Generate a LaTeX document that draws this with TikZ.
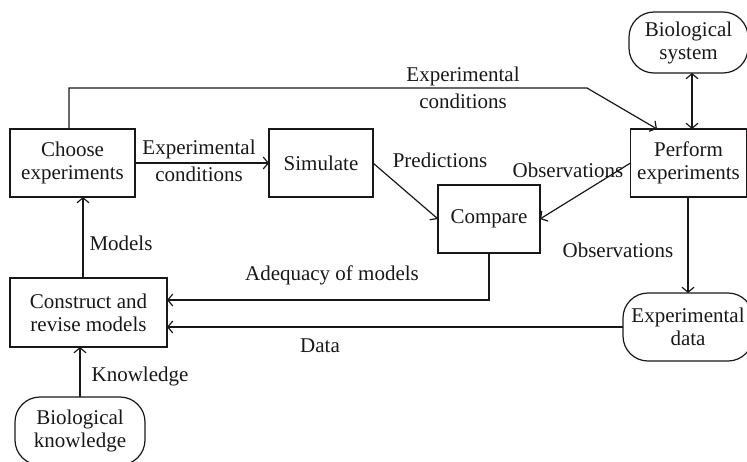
\documentclass[tikz,border=0pt]{standalone}
\usepackage{fontspec}
\setmainfont{Liberation Serif}
\usetikzlibrary{arrows.meta,calc}
\definecolor{ink}{HTML}{1A1718}

\begin{document}
\begin{tikzpicture}[x=1pt,y=-1pt,
  every node/.style={text=ink},
  boxtext/.style={font=\fontsize{21}{23}\selectfont},
  labeltext/.style={font=\fontsize{21}{27.5}\selectfont, align=center, inner sep=0pt},
  stagebox/.style={draw=ink, line width=1.2pt, rectangle, align=center, inner sep=0pt, outer sep=0pt, boxtext},
  sourcebox/.style={stagebox, rounded corners=25pt},
  arr/.style={draw=ink, line width=1.2pt, -{Straight Barb[length=5pt,width=12pt,line width=1.2pt]}},
  darr/.style={draw=ink, line width=1.2pt, {Straight Barb[length=5pt,width=12pt,line width=1.2pt]}-{Straight Barb[length=5pt,width=12pt,line width=1.2pt]}}]

\useasboundingbox (0,0) rectangle (747,461);
\clip (0,0) rectangle (747,461);

% process stages
\node[stagebox, minimum width=125pt, minimum height=68pt] (choose)    at (72.5,163) {Choose\\experiments};
\node[stagebox, minimum width=104pt, minimum height=68pt] (simulate)  at (321,163)  {Simulate};
\node[stagebox, minimum width=102pt, minimum height=68pt] (compare)   at (489,219)  {Compare};
\node[stagebox, minimum width=116pt, minimum height=68pt] (perform)   at (688.5,163) {Perform\\experiments};
\node[stagebox, minimum width=157pt, minimum height=69pt] (construct) at (88.5,312.5) {Construct and\\revise models};

% sources of information
\node[sourcebox, minimum width=119pt, minimum height=61pt] (biosys)  at (688.5,42.5) {Biological\\system};
\node[sourcebox, minimum width=130pt, minimum height=68pt] (expdata) at (688,327)   {Experimental\\data};
\node[sourcebox, minimum width=130pt, minimum height=68pt] (bioknow) at (80,431)    {Biological\\knowledge};

% route of the upper "experimental conditions" line
\coordinate (ecCol)  at (69,88);
\coordinate (ecTurn) at (587,88);
\coordinate (ecEnd)  at (657,129);
\coordinate (bsCol)  at (692,0);
\coordinate (mCol)   at (83,0);
\coordinate (aqRow)  at (0,300);

% connectors
\draw[arr] (choose.north -| ecCol) -- (ecCol) -- (ecTurn) -- (perform.north -| ecEnd);
\draw[arr] (choose.east) -- (simulate.west);
\draw[arr] (simulate.east) -- (compare.west);
\draw[arr] (perform.west) -- (compare.east);
\draw[darr] (biosys.south -| bsCol) -- (perform.north -| bsCol);
\draw[arr] (perform.south -| expdata.north) -- (expdata.north);
\draw[arr] (compare.south) |- (construct.east |- aqRow);
\draw[arr] (expdata.west) -- (construct.east |- expdata.west);
\draw[arr] (construct.north -| mCol) -- (choose.south -| mCol);
\draw[arr] (bioknow.north) -- (construct.south -| bioknow.north);

% connector labels
\node[labeltext] (lEcTop)  at (463,88)  {Experimental\\conditions};
\node[labeltext] (lEcMid)  at (199,161) {Experimental\\conditions};
\node[labeltext] (lPred)   at (440,160) {Predictions};
\node[labeltext] (lObs1)   at (568,170) {Observations};
\node[labeltext] (lObs2)   at (618,250) {Observations};
\node[labeltext] (lModels) at (121,243) {Models};
\node[labeltext] (lAdeq)   at (332,275) {Adequacy of models};
\node[labeltext] (lData)   at (320,346) {Data};
\node[labeltext] (lKnow)   at (140,376) {Knowledge};
\end{tikzpicture}
\end{document}
